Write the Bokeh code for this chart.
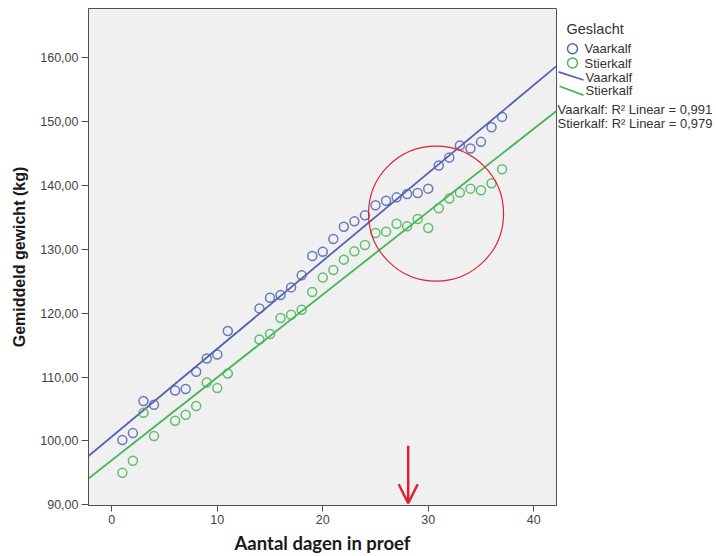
import numpy as np
from bokeh.plotting import figure
from bokeh.models import Range1d, FixedTicker, CustomJSTickFormatter, Arrow, OpenHead
from bokeh.layouts import row
from bokeh.embed import file_html
from bokeh.resources import INLINE
from bokeh.core.properties import value

# ---------------- data ----------------
days = [1, 2, 3, 4, 6, 7, 8, 9, 10, 11, 14, 15, 16, 17, 18, 19, 20, 21, 22,
        23, 24, 25, 26, 27, 28, 29, 30, 31, 32, 33, 34, 35, 36, 37]
vaarkalf = [100.13, 101.23, 106.24, 105.66, 107.90, 108.12, 110.83, 112.91,
            113.54, 117.20, 120.74, 122.41, 122.84, 124.03, 125.91, 128.94,
            129.62, 131.61, 133.53, 134.36, 135.30, 136.87, 137.60, 138.12,
            138.65, 138.81, 139.48, 143.09, 144.34, 146.22, 145.75, 146.80,
            149.08, 150.71]
stierkalf = [95.01, 96.89, 104.41, 100.76, 103.15, 104.09, 105.46, 109.15,
             108.27, 110.56, 115.88, 116.73, 119.24, 119.75, 120.54, 123.31,
             125.59, 126.75, 128.37, 129.67, 130.67, 132.55, 132.75, 134.00,
             133.58, 134.74, 133.33, 136.40, 137.92, 138.86, 139.48, 139.22,
             140.31, 142.51]
series_names = ["Vaarkalf", "Stierkalf"]
r2_labels = ["0,991", "0,979"]
legend_title = "Geslacht"
x_ticks = [0, 10, 20, 30, 40]
y_ticks = [90, 100, 110, 120, 130, 140, 150, 160]
x_title = "Aantal dagen in proef"
y_title = "Gemiddeld gewicht (kg)"

# annotations (circle around days ~26-35, arrow at day 28)
circle_center = (30.74, 135.57)
arrow_x = 28.1
arrow_y = (99.24, 90.25)

# ---------------- style ----------------
BLUE = "#5363b2"
GREEN = "#48b558"
RED = "#dd2233"
FONT = value("Liberation Sans")
X_START, X_END = -2.21, 42.16
Y_START, Y_END = 89.9, 167.67

p = figure(width=557, height=556,
           x_range=Range1d(X_START, X_END), y_range=Range1d(Y_START, Y_END),
           output_backend="svg", toolbar_location=None,
           min_border_left=88, min_border_right=1, min_border_top=8,
           min_border_bottom=51)
p.background_fill_color = "#f0f0f0"
p.border_fill_color = "white"
p.outline_line_color = "#505050"
p.grid.visible = False

for ax in (p.xaxis[0], p.yaxis[0]):
    ax.axis_line_color = "#505050"
    ax.major_tick_line_color = "#505050"
    ax.minor_tick_line_color = None
    ax.major_tick_in = 0
    ax.major_label_text_font = "Liberation Sans"
    ax.major_label_text_font_size = "12.5px"
    ax.major_label_text_color = "#444444"
    ax.axis_label_text_font_style = "bold"
    ax.axis_label_text_color = "#1a1a1a"

p.xaxis.ticker = FixedTicker(ticks=x_ticks)
p.yaxis.ticker = FixedTicker(ticks=y_ticks)
p.yaxis.formatter = CustomJSTickFormatter(code="return tick.toFixed(2).replace('.', ',');")
p.xaxis.major_tick_out = 6
p.yaxis.major_tick_out = 7
p.xaxis.major_label_standoff = 3
p.yaxis.major_label_standoff = 3
p.xaxis.axis_label = x_title
p.yaxis.axis_label = y_title
p.xaxis.axis_label_text_font = "Lato"
p.xaxis.axis_label_text_font_size = "18.5px"
p.yaxis.axis_label_text_font = "Liberation Sans"
p.yaxis.axis_label_text_font_size = "16px"
p.xaxis.axis_label_standoff = 5
p.yaxis.axis_label_standoff = 9

# fit lines (least squares from the data)
xs = np.array([X_START, X_END])
for ys_data, col in ((vaarkalf, BLUE), (stierkalf, GREEN)):
    coef = np.polyfit(days, ys_data, 1)
    p.line(xs, np.polyval(coef, xs), line_color=col, line_width=1.8)

# points
p.scatter(days, vaarkalf, marker="circle", size=9, fill_color=None,
          line_color=BLUE, line_width=1.5, line_alpha=0.85)
p.scatter(days, stierkalf, marker="circle", size=9, fill_color=None,
          line_color=GREEN, line_width=1.5, line_alpha=0.85)

# annotations
p.scatter([circle_center[0]], [circle_center[1]], marker="circle", size=135,
          fill_color=None, line_color=RED, line_width=1.2)
p.add_layout(Arrow(end=OpenHead(size=19, line_color=RED, line_width=2.5),
                   x_start=arrow_x, y_start=arrow_y[0], x_end=arrow_x, y_end=arrow_y[1],
                   line_color=RED, line_width=2.5))

# ---------------- legend panel ----------------
leg = figure(width=159, height=556, x_range=Range1d(557, 716), y_range=Range1d(556, 0),
             output_backend="svg", toolbar_location=None, min_border=0,
             x_axis_location=None, y_axis_location=None)
leg.outline_line_color = None
leg.grid.visible = False
leg.background_fill_color = "white"
leg.border_fill_color = "white"

leg.text(x=[566], y=[23], text=[legend_title], text_font=FONT,
         text_font_size="14.5px", text_color="#333333", text_baseline="middle")
leg.scatter([572, 572], [45, 61], marker="circle", size=10, fill_color=None,
            line_color=[BLUE, GREEN], line_width=1.5)
leg.text(x=[584, 584], y=[45, 61], text=series_names, text_font=FONT,
         text_font_size="13px", text_color="#333333", text_baseline="middle")
leg.segment(x0=[558, 559], y0=[71, 87], x1=[583, 583], y1=[80, 97],
            line_color=[BLUE, GREEN], line_width=1.8)
leg.text(x=[585, 585], y=[77, 92], text=series_names, text_font=FONT,
         text_font_size="13px", text_color="#333333", text_baseline="middle")
leg.text(x=[557, 557], y=[113, 129],
         text=[f"{n}: R\u00b2 Linear = {r}" for n, r in zip(series_names, r2_labels)],
         text_font=FONT, text_font_size="13px", text_color="#333333",
         text_baseline="middle")

layout = row(p, leg, spacing=0)
open("out.html", "w").write(file_html(layout, INLINE))
